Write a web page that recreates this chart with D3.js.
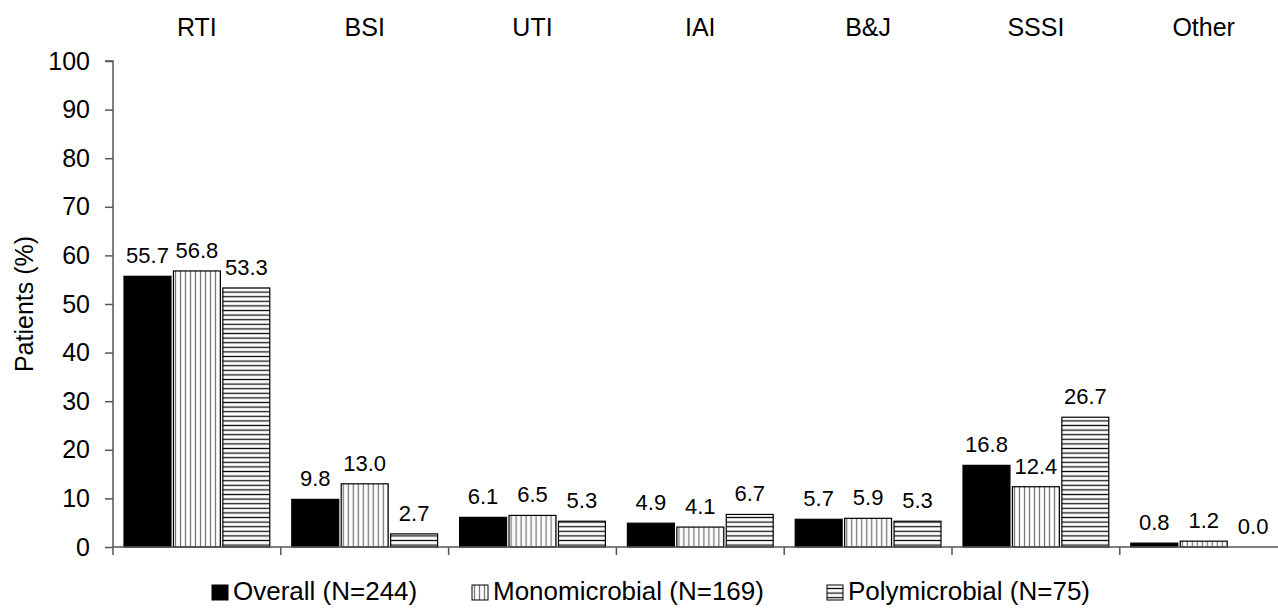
<!DOCTYPE html>
<html>
<head>
<meta charset="utf-8">
<script src="https://cdn.jsdelivr.net/npm/d3@7"></script>
<style>
  body { margin: 0; background: #fff; }
  text { font-family: "Liberation Sans", Arial, sans-serif; fill: #000; }
</style>
</head>
<body>
<svg id="chart" width="1278" height="608"></svg>
<script>
const categories = ['RTI', 'BSI', 'UTI', 'IAI', 'B&J', 'SSSI', 'Other']
const seriesNames = ['Overall (N=244)', 'Monomicrobial (N=169)', 'Polymicrobial (N=75)']
const overall = [55.7, 9.8, 6.1, 4.9, 5.7, 16.8, 0.8]
const mono = [56.8, 13.0, 6.5, 4.1, 5.9, 12.4, 1.2]
const poly = [53.3, 2.7, 5.3, 6.7, 5.3, 26.7, 0.0]
const yTicks = [0, 10, 20, 30, 40, 50, 60, 70, 80, 90, 100]

const series = [overall, mono, poly]
const fills = ['#000', 'url(#vlines)', 'url(#hlines)']

const svg = d3.select('#chart')
const margin = {left: 113, top: 61, bottom: 61}
const width = 1278, height = 608

// hatch patterns
const defs = svg.append('defs')
const vp = defs.append('pattern').attr('id', 'vlines')
  .attr('patternUnits', 'userSpaceOnUse').attr('width', 5).attr('height', 5)
vp.append('rect').attr('width', 5).attr('height', 5).attr('fill', '#fff')
vp.append('line').attr('x1', 2.5).attr('x2', 2.5).attr('y1', 0).attr('y2', 5)
  .attr('stroke', '#777').attr('stroke-width', 1.3)
const hp = defs.append('pattern').attr('id', 'hlines')
  .attr('patternUnits', 'userSpaceOnUse').attr('width', 5).attr('height', 4.6)
hp.append('rect').attr('width', 5).attr('height', 4.6).attr('fill', '#fff')
hp.append('line').attr('x1', 0).attr('x2', 5).attr('y1', 2.3).attr('y2', 2.3)
  .attr('stroke', '#111').attr('stroke-width', 1.3)

const x = d3.scaleBand()
  .domain(categories)
  .range([margin.left, margin.left + 167.8 * categories.length])

const x1 = d3.scaleBand()
  .domain(d3.range(series.length))
  .range([11, x.bandwidth() - 11])
  .paddingInner(0.05)

const y = d3.scaleLinear()
  .domain([0, 100])
  .range([height - margin.bottom, margin.top])

// bars
const groups = svg.append('g').selectAll('g')
  .data(categories)
  .join('g')
  .attr('transform', d => `translate(${x(d)},0)`)

groups.selectAll('rect')
  .data((d, i) => series.map((s, k) => ({k, v: s[i]})))
  .join('rect')
  .attr('x', d => x1(d.k))
  .attr('width', x1.bandwidth())
  .attr('y', d => y(d.v))
  .attr('height', d => y(0) - y(d.v))
  .attr('fill', d => fills[d.k])
  .attr('stroke', d => d.v > 0 ? '#000' : 'none')
  .attr('stroke-width', 1.2)

groups.selectAll('text.val')
  .data((d, i) => series.map((s, k) => ({k, v: s[i]})))
  .join('text')
  .attr('class', 'val')
  .attr('x', d => x1(d.k) + x1.bandwidth() / 2)
  .attr('y', d => y(d.v) - 13)
  .attr('text-anchor', 'middle')
  .attr('font-size', 22)
  .text(d => d.v.toFixed(1))

// y axis
const yAxis = svg.append('g')
  .attr('transform', `translate(${margin.left},0)`)
  .call(d3.axisLeft(y).tickValues(yTicks).tickSize(8).tickPadding(15))
yAxis.select('.domain').attr('stroke', '#555').attr('stroke-width', 1.5)
  .attr('d', `M-8,${y(100)}H0V${y(0)}`)
yAxis.selectAll('.tick line').attr('stroke', '#555').attr('stroke-width', 1.5)
yAxis.selectAll('.tick text').attr('font-size', 25).attr('font-family', '"Liberation Sans", Arial, sans-serif')

// x axis
const xAxis = svg.append('g').attr('transform', `translate(0,${y(0)})`)
xAxis.append('line').attr('x1', margin.left).attr('x2', width)
  .attr('stroke', '#555').attr('stroke-width', 1.5)
xAxis.selectAll('line.tk')
  .data(categories.map(c => x(c)).concat([x(categories[categories.length - 1]) + x.bandwidth()]))
  .join('line')
  .attr('class', 'tk')
  .attr('x1', d => d).attr('x2', d => d)
  .attr('y1', 0).attr('y2', 8)
  .attr('stroke', '#555').attr('stroke-width', 1.5)

// category labels on top
svg.append('g').selectAll('text')
  .data(categories)
  .join('text')
  .attr('x', d => x(d) + x.bandwidth() / 2)
  .attr('y', 36)
  .attr('text-anchor', 'middle')
  .attr('font-size', 25)
  .text(d => d)

// y title
svg.append('text')
  .attr('transform', `translate(33,${y(50)}) rotate(-90)`)
  .attr('text-anchor', 'middle')
  .attr('font-size', 25)
  .text('Patients (%)')

// legend
const legendX = [212, 472, 827]
const legend = svg.append('g').selectAll('g')
  .data(seriesNames)
  .join('g')
  .attr('transform', (d, i) => `translate(${legendX[i]},600)`)
legend.append('rect')
  .attr('x', 0).attr('y', -15).attr('width', 16).attr('height', 15)
  .attr('fill', (d, i) => fills[i])
  .attr('stroke', '#000').attr('stroke-width', 1)
legend.append('text')
  .attr('x', 21).attr('y', 0)
  .attr('font-size', 26)
  .text(d => d)
</script>
</body>
</html>
